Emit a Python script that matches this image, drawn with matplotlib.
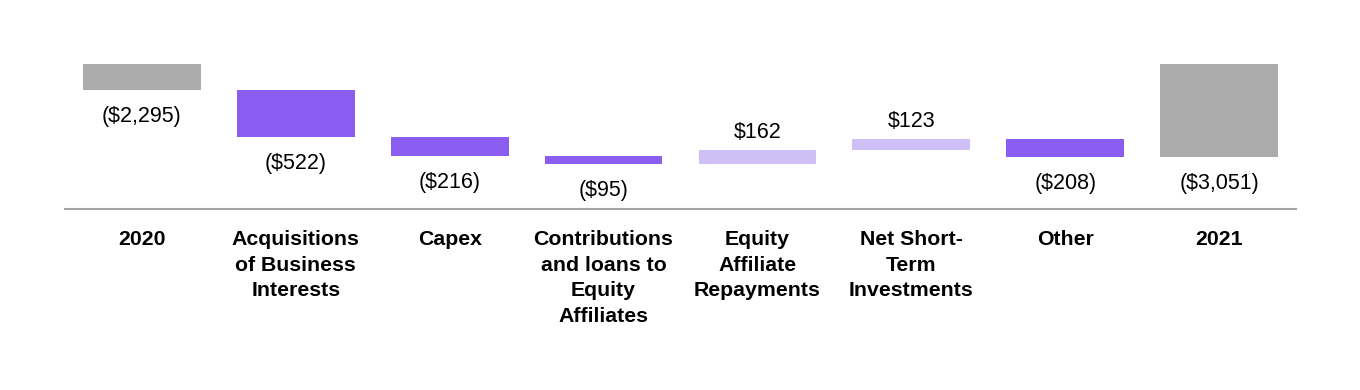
import matplotlib.pyplot as plt
import numpy as np

plt.rcParams["font.family"] = ["Liberation Sans", "DejaVu Sans"]

# Data
categories = ["2020", "Acquisitions\nof Business\nInterests", "Capex",
              "Contributions\nand loans to\nEquity\nAffiliates",
              "Equity\nAffiliate\nRepayments", "Net Short-\nTerm\nInvestments",
              "Other", "2021"]
values = [-2295, -522, -216, -95, 162, 123, -208, -3051]
is_total = [True, False, False, False, False, False, False, True]

gray = "#ABABAB"
purple = "#8B5CF0"
light = "#CFBFF7"

# Waterfall: plot outflows as positive depth on an inverted axis
x = np.arange(len(categories))
starts, ends, colors = [], [], []
level = 0
for v, tot in zip(values, is_total):
    if tot:
        starts.append(0)
        ends.append(-v)
        level = -v
        colors.append(gray)
    else:
        starts.append(level)
        level = level - v
        ends.append(level)
        colors.append(purple if v < 0 else light)
starts = np.array(starts)
ends = np.array(ends)

fig = plt.figure(figsize=(13.6, 3.9), dpi=100)
ax = fig.add_axes([65 / 1360, (390 - 209) / 390, 1231 / 1360, 145 / 390])

ax.bar(x, ends - starts, bottom=starts, width=0.766, color=colors)
ax.set_xlim(-0.5, 7.5)
ax.set_ylim(3630, 2000)

for xi, v, s, e in zip(x, values, starts, ends):
    if v < 0:
        ax.annotate(f"(${abs(v):,})", (xi, max(s, e)), xytext=(0, -19),
                    textcoords="offset points", ha="center", va="center",
                    fontsize=15.5, annotation_clip=False)
    else:
        ax.annotate(f"${v:,}", (xi, min(s, e)), xytext=(0, 12.5),
                    textcoords="offset points", ha="center", va="center",
                    fontsize=15.5, annotation_clip=False)

ax.set_xticks(x)
ax.set_xticklabels(categories, fontsize=15.3, fontweight="bold", linespacing=1.45)
ax.tick_params(axis="x", length=0, pad=15)
ax.set_yticks([])
for side in ["top", "left", "right"]:
    ax.spines[side].set_visible(False)
ax.spines["bottom"].set_color("#A6A6A6")
ax.spines["bottom"].set_linewidth(1.5)

fig.savefig("out.png", dpi=100)
